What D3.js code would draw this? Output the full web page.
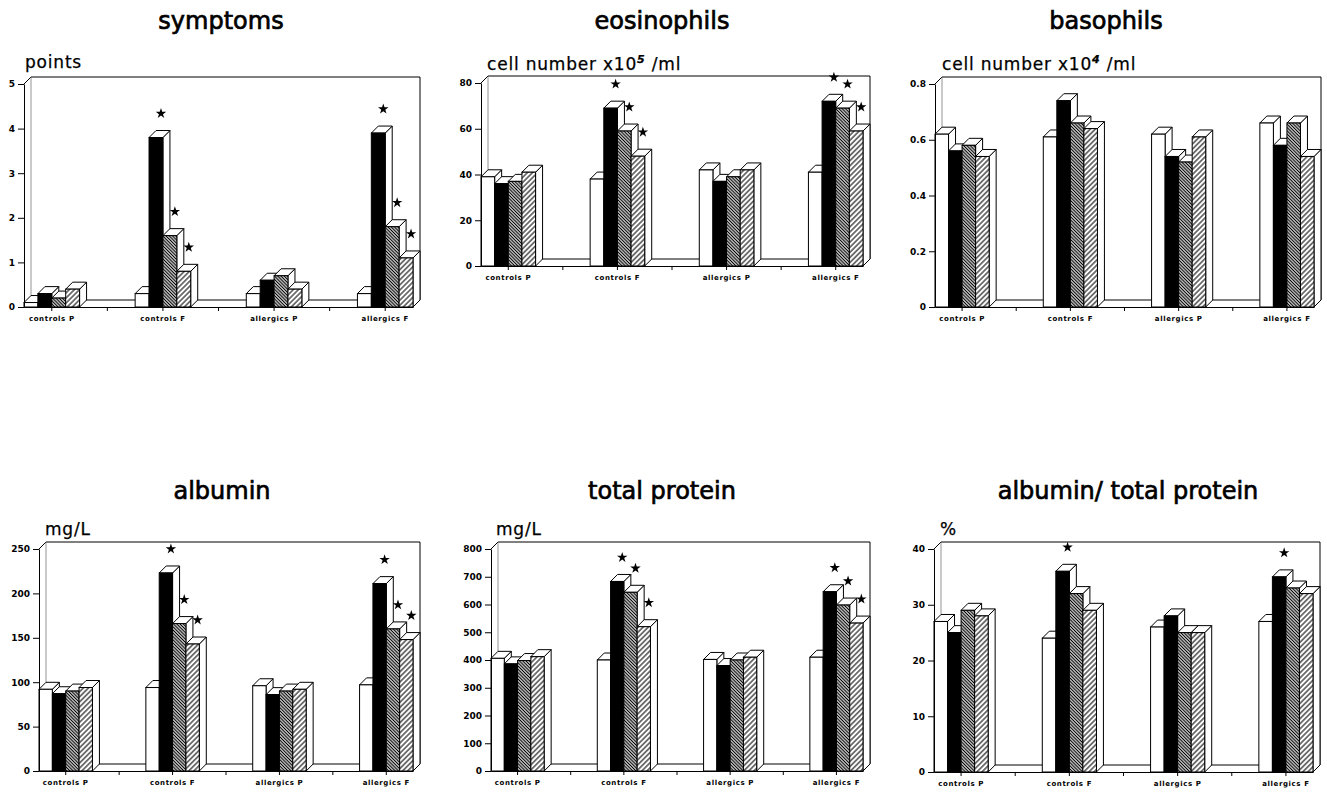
<!DOCTYPE html>
<html><head><meta charset="utf-8">
<script src="https://cdn.jsdelivr.net/npm/d3@7"></script>
<style>body{margin:0;background:#fff} svg{display:block}</style>
</head><body><svg id="chart" width="1327" height="798"></svg>
<script>
// ---------- data ----------
const categories = ["controls P", "controls F", "allergics P", "allergics F"];
// four bars per group: white, black, dense hatch, sparse hatch
const seriesKeys = ["white", "black", "hatchDense", "hatchSparse"];

const symptomsValues = [[0.1, 0.3, 0.2, 0.4], [0.3, 3.8, 1.6, 0.8], [0.3, 0.6, 0.7, 0.4], [0.3, 3.9, 1.8, 1.1]];
const symptomsStars  = [[0, 0, 0, 0], [0, 1, 1, 1], [0, 0, 0, 0], [0, 1, 1, 1]];
const symptomsTicks  = [0, 1, 2, 3, 4, 5];

const eosinophilsValues = [[39, 36, 37, 41], [38, 69, 59, 48], [42, 37, 39, 42], [41, 72, 69, 59]];
const eosinophilsStars  = [[0, 0, 0, 0], [0, 1, 1, 1], [0, 0, 0, 0], [0, 1, 1, 1]];
const eosinophilsTicks  = [0, 20, 40, 60, 80];

const basophilsValues = [[0.62, 0.56, 0.58, 0.54], [0.61, 0.74, 0.66, 0.64], [0.62, 0.54, 0.52, 0.61], [0.66, 0.58, 0.66, 0.54]];
const basophilsStars  = [[0, 0, 0, 0], [0, 0, 0, 0], [0, 0, 0, 0], [0, 0, 0, 0]];
const basophilsTicks  = [0, 0.2, 0.4, 0.6, 0.8];

const albuminValues = [[92, 87, 90, 94], [94, 223, 166, 143], [96, 86, 90, 92], [97, 211, 160, 148]];
const albuminStars  = [[0, 0, 0, 0], [0, 1, 1, 1], [0, 0, 0, 0], [0, 1, 1, 1]];
const albuminTicks  = [0, 50, 100, 150, 200, 250];

const proteinValues = [[406, 386, 398, 412], [400, 683, 644, 520], [402, 380, 400, 410], [410, 646, 598, 533]];
const proteinStars  = [[0, 0, 0, 0], [0, 1, 1, 1], [0, 0, 0, 0], [0, 1, 1, 1]];
const proteinTicks  = [0, 100, 200, 300, 400, 500, 600, 700, 800];

const ratioValues = [[27, 25, 29, 28], [24, 36, 32, 29], [26, 28, 25, 25], [27, 35, 33, 32]];
const ratioStars  = [[0, 0, 0, 0], [0, 1, 0, 0], [0, 0, 0, 0], [0, 1, 0, 0]];
const ratioTicks  = [0, 10, 20, 30, 40];

// ---------- layout ----------
const panels = [
  {title: "symptoms", unit: ["points"], values: symptomsValues, stars: symptomsStars, ticks: symptomsTicks, fmt: d3.format("d"),
   x0: 24, x1: 413, y0: 307, yTop: 84, tx: 221, ty: 29, ux: 25, uy: 68},
  {title: "eosinophils", unit: ["cell number x10", "5", " /ml"], values: eosinophilsValues, stars: eosinophilsStars, ticks: eosinophilsTicks, fmt: d3.format("d"),
   x0: 481, x1: 863, y0: 266, yTop: 83, tx: 662, ty: 29, ux: 487, uy: 70},
  {title: "basophils", unit: ["cell number x10", "4", " /ml"], values: basophilsValues, stars: basophilsStars, ticks: basophilsTicks, fmt: d => d === 0 ? "0" : d3.format(".1f")(d),
   x0: 935, x1: 1314, y0: 307, yTop: 84, tx: 1106, ty: 29, ux: 942, uy: 70},
  {title: "albumin", unit: ["mg/L"], values: albuminValues, stars: albuminStars, ticks: albuminTicks, fmt: d3.format("d"),
   x0: 39, x1: 413, y0: 771, yTop: 549, tx: 222, ty: 499, ux: 45, uy: 535},
  {title: "total protein", unit: ["mg/L"], values: proteinValues, stars: proteinStars, ticks: proteinTicks, fmt: d3.format("d"),
   x0: 491, x1: 863, y0: 771, yTop: 549, tx: 662, ty: 499, ux: 496, uy: 535},
  {title: "albumin/ total protein", unit: ["%"], values: ratioValues, stars: ratioStars, ticks: ratioTicks, fmt: d3.format("d"),
   x0: 934, x1: 1313, y0: 772, yTop: 549, tx: 1128, ty: 499, ux: 940, uy: 535}
];

const svg = d3.select("#chart");
const defs = svg.append("defs");

function hatch(id, spacing, angle, sw) {
  const p = defs.append("pattern").attr("id", id).attr("patternUnits", "userSpaceOnUse")
    .attr("width", spacing).attr("height", 10).attr("patternTransform", `rotate(${angle})`);
  p.append("rect").attr("width", spacing).attr("height", 10).attr("fill", "#fff");
  p.append("line").attr("x1", spacing / 2).attr("x2", spacing / 2).attr("y1", -1).attr("y2", 11)
    .attr("stroke", "#000").attr("stroke-width", sw);
}
hatch("hatchDense", 2.3, -45, 1.25);
hatch("hatchSparse", 3.6, 45, 1.05);

const fills = {white: "#fff", black: "#000", hatchDense: "url(#hatchDense)", hatchSparse: "url(#hatchSparse)"};
const D = 7; // 3D depth

panels.forEach(p => {
  const g = svg.append("g");
  const x = d3.scaleBand().domain(categories).range([p.x0, p.x1]).paddingInner(0.5).paddingOuter(0);
  const xi = d3.scaleBand().domain(seriesKeys).range([0, x.bandwidth()]);
  const y = d3.scaleLinear().domain([0, d3.max(p.ticks)]).range([p.y0, p.yTop]);
  const [X0, X1] = x.range();
  const Y0 = y(0), YT = y(d3.max(p.ticks));

  // title and unit
  g.append("text").attr("x", p.tx).attr("y", p.ty).attr("text-anchor", "middle")
    .attr("font-family", "DejaVu Sans").attr("font-size", 24).attr("stroke", "#000").attr("stroke-width", 0.7)
    .text(p.title);
  const ut = g.append("text").attr("x", p.ux).attr("y", p.uy)
    .attr("font-family", "DejaVu Sans").attr("font-size", 17).attr("letter-spacing", 0.8)
    .attr("stroke", "#000").attr("stroke-width", 0.25);
  ut.append("tspan").text(p.unit[0]);
  if (p.unit.length > 1) {
    ut.append("tspan").attr("dy", -7).attr("font-size", 11).attr("font-weight", "bold").attr("font-style", "italic").text(p.unit[1]);
    ut.append("tspan").attr("dy", 7).text(p.unit[2]);
  }

  // 3D frame (back wall and floor)
  const fr = g.append("g").attr("fill", "none").attr("stroke", "#000").attr("stroke-width", 1);
  fr.append("path").attr("d", `M${X0},${YT}L${X0 + D},${YT - D}H${X1 + D}V${Y0 - D}L${X1},${Y0}`);
  fr.append("path").attr("d", `M${X0 + D},${YT - D}V${Y0 - D}`).attr("stroke", "#666").attr("stroke-width", 0.7);
  fr.append("path").attr("d", `M${X0},${Y0}L${X0 + D},${Y0 - D}H${X1 + D}`);

  // bars
  const bw = xi.bandwidth();
  const barsG = g.append("g").attr("stroke", "#000").attr("stroke-width", 1).attr("stroke-linejoin", "miter");
  categories.forEach((c, i) => {
    seriesKeys.forEach((s, j) => {
      const v = p.values[i][j];
      const bx = x(c) + xi(s), by = y(v);
      barsG.append("path").attr("fill", "#fff")
        .attr("d", `M${bx + bw},${by}L${bx + bw + D},${by - D}V${Y0 - D}L${bx + bw},${Y0}Z`);
      barsG.append("path").attr("fill", "#fff")
        .attr("d", `M${bx},${by}L${bx + D},${by - D}H${bx + bw + D}L${bx + bw},${by}Z`);
      barsG.append("rect").attr("x", bx).attr("y", by).attr("width", bw).attr("height", Y0 - by)
        .attr("fill", fills[s]);
      if (p.stars[i][j]) {
        g.append("path").attr("d", d3.symbol(d3.symbolStar).size(34)())
          .attr("transform", `translate(${bx + bw / 2 + 5},${by - 24})`).attr("fill", "#000");
      }
    });
  });

  // axes
  const ya = g.append("g").attr("transform", `translate(${X0},0)`)
    .call(d3.axisLeft(y).tickValues(p.ticks).tickFormat(p.fmt).tickSize(6).tickSizeOuter(0).tickPadding(3));
  ya.selectAll("text").attr("font-family", "DejaVu Sans").attr("font-weight", "bold").attr("font-size", 9).attr("fill", "#000");
  ya.selectAll("line,path").attr("stroke", "#000");

  const xa = g.append("g").attr("transform", `translate(0,${Y0})`)
    .call(d3.axisBottom(x).tickSize(4).tickSizeOuter(0).tickPadding(5));
  xa.selectAll("text").attr("font-family", "DejaVu Sans").attr("font-weight", "bold").attr("font-size", 7)
    .attr("letter-spacing", 0.6).attr("fill", "#000");
  xa.selectAll("line,path").attr("stroke", "#000");
  // boundary ticks between groups
  categories.slice(0, -1).forEach((c, i) => {
    const bxm = (x(c) + x.bandwidth() + x(categories[i + 1])) / 2;
    xa.append("line").attr("x1", bxm).attr("x2", bxm).attr("y1", 0).attr("y2", 4).attr("stroke", "#000");
  });
});
</script>
</body></html>
